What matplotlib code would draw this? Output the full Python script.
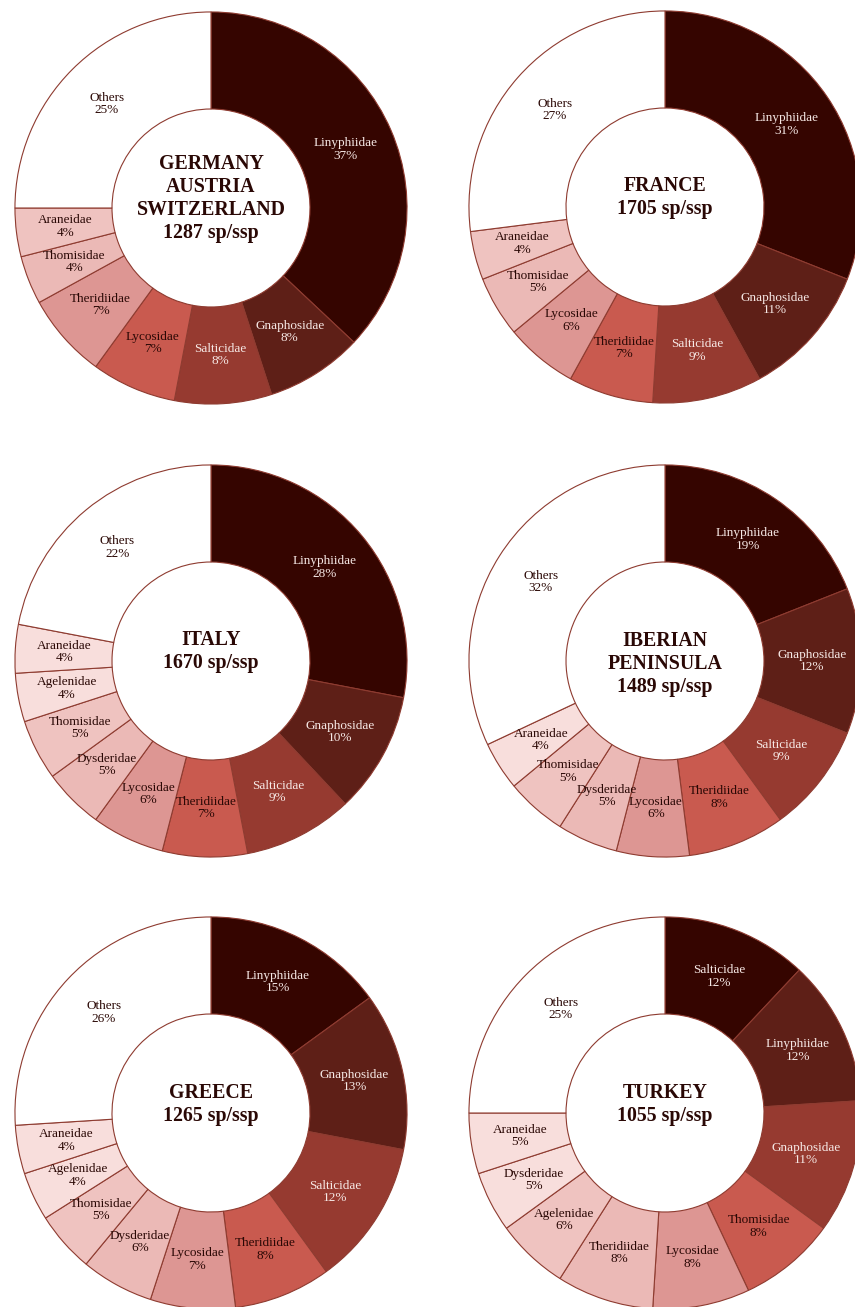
import matplotlib
matplotlib.use('Agg')
import matplotlib.pyplot as plt
import numpy as np

# families (clockwise from 12 o'clock) and their share in %, last one is "Others"
germany_fam = ['Linyphiidae', 'Gnaphosidae', 'Salticidae', 'Lycosidae', 'Theridiidae',
               'Thomisidae', 'Araneidae', 'Others']
germany_pct = [37, 8, 8, 7, 7, 4, 4, 25]

france_fam = ['Linyphiidae', 'Gnaphosidae', 'Salticidae', 'Theridiidae', 'Lycosidae',
              'Thomisidae', 'Araneidae', 'Others']
france_pct = [31, 11, 9, 7, 6, 5, 4, 27]

italy_fam = ['Linyphiidae', 'Gnaphosidae', 'Salticidae', 'Theridiidae', 'Lycosidae',
             'Dysderidae', 'Thomisidae', 'Agelenidae', 'Araneidae', 'Others']
italy_pct = [28, 10, 9, 7, 6, 5, 5, 4, 4, 22]

iberia_fam = ['Linyphiidae', 'Gnaphosidae', 'Salticidae', 'Theridiidae', 'Lycosidae',
              'Dysderidae', 'Thomisidae', 'Araneidae', 'Others']
iberia_pct = [19, 12, 9, 8, 6, 5, 5, 4, 32]

greece_fam = ['Linyphiidae', 'Gnaphosidae', 'Salticidae', 'Theridiidae', 'Lycosidae',
              'Dysderidae', 'Thomisidae', 'Agelenidae', 'Araneidae', 'Others']
greece_pct = [15, 13, 12, 8, 7, 6, 5, 4, 4, 26]

turkey_fam = ['Salticidae', 'Linyphiidae', 'Gnaphosidae', 'Thomisidae', 'Lycosidae',
              'Theridiidae', 'Agelenidae', 'Dysderidae', 'Araneidae', 'Others']
turkey_pct = [12, 12, 11, 8, 8, 8, 6, 5, 5, 25]

titles = ['GERMANY\nAUSTRIA\nSWITZERLAND\n1287 sp/ssp', 'FRANCE\n1705 sp/ssp',
          'ITALY\n1670 sp/ssp', 'IBERIAN\nPENINSULA\n1489 sp/ssp',
          'GREECE\n1265 sp/ssp', 'TURKEY\n1055 sp/ssp']

PALETTE = ['#350500', '#5E1F17', '#963A30', '#C95A4F', '#DD9693',
           '#EBB9B6', '#EFC3C0', '#F8DEDC', '#F8DEDC']
EDGE = '#8E3B30'
DARK_TXT = '#2A0805'
LIGHT_TXT = '#F6E8E5'

W, H = 855, 1307
R = 198
# pie centres in pixels (x, y from top) and vertical shift of the centre title
centres = [(211, 208), (665, 207), (211, 661), (665, 661), (211, 1113), (665, 1113)]
title_dy = [0.05, 0.05, 0.05, -0.015, 0.043, 0.043]

data = [(germany_fam, germany_pct), (france_fam, france_pct), (italy_fam, italy_pct),
        (iberia_fam, iberia_pct), (greece_fam, greece_pct), (turkey_fam, turkey_pct)]

plt.rcParams['font.family'] = ['Liberation Serif', 'DejaVu Serif']

fig = plt.figure(figsize=(W / 100, H / 100), dpi=100)

for (fam, pct), title, (cx, cy), dy in zip(data, titles, centres, title_dy):
    ax = fig.add_axes([(cx - R) / W, 1 - (cy + R) / H, 2 * R / W, 2 * R / H])
    n = len(fam) - 1
    colors = PALETTE[:n] + ['white']
    wedges, _ = ax.pie(pct, colors=colors, startangle=90, counterclock=False,
                       radius=1, wedgeprops=dict(width=0.495, edgecolor=EDGE, linewidth=0.8))
    for i, w in enumerate(wedges):
        mid = np.deg2rad((w.theta1 + w.theta2) / 2)
        x, y = 0.75 * np.cos(mid), 0.75 * np.sin(mid)
        col = LIGHT_TXT if i < 3 else DARK_TXT
        ax.text(x, y, '{}\n{}%'.format(fam[i], pct[i]), ha='center', va='center',
                fontsize=9.5, color=col, linespacing=1.05)
    ax.text(0, dy, title, ha='center', va='center', fontsize=14.3,
            fontweight='bold', color=DARK_TXT, linespacing=1.2)
    ax.set_xlim(-1.01, 1.01)
    ax.set_ylim(-1.01, 1.01)
    ax.axis('off')

fig.savefig('out.png', dpi=100, facecolor='white')
